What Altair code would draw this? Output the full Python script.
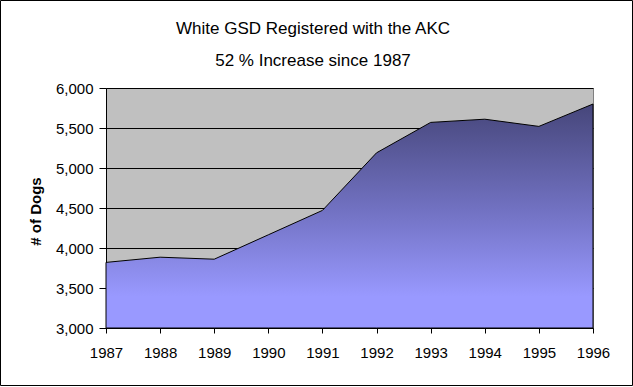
import altair as alt
import pandas as pd

years = [1987, 1988, 1989, 1990, 1991, 1992, 1993, 1994, 1995, 1996]
dogs = [3820, 3885, 3860, 4165, 4470, 5190, 5570, 5610, 5520, 5800]
title_lines = ["White GSD Registered with the AKC", "52 % Increase since 1987"]
y_ticks = [3000, 3500, 4000, 4500, 5000, 5500, 6000]

df = pd.DataFrame({"year": years, "dogs": dogs})
one = pd.DataFrame({"a": [0]})

FONT = "Liberation Sans"

grad = alt.Gradient(
    gradient="linear",
    x1=0, x2=0, y1=0, y2=1,
    stops=[
        alt.GradientStop(color="#46467a", offset=0),
        alt.GradientStop(color="#7474c6", offset=0.5),
        alt.GradientStop(color="#9999ff", offset=0.86),
        alt.GradientStop(color="#9999ff", offset=1),
    ],
)

area = alt.Chart(df).mark_area(
    color=grad, stroke="black", strokeWidth=1
).encode(
    x=alt.X("year:Q",
            scale=alt.Scale(domain=[1987, 1996], nice=False, zero=False),
            axis=alt.Axis(values=years, format="d", title=None, grid=False,
                          tickSize=5, labelPadding=12, labelFontSize=15,
                          labelFont=FONT, labelColor="black",
                          domainColor="black", tickColor="black",
                          labelFlush=False, labelOverlap=False)),
    y=alt.Y("dogs:Q",
            scale=alt.Scale(domain=[3000, 6000], nice=False, zero=False),
            axis=alt.Axis(values=y_ticks, format=",.0f", title="# of Dogs",
                          grid=True, gridColor="black", gridOpacity=1,
                          tickSize=7, labelPadding=6, labelFontSize=15,
                          labelFont=FONT, labelColor="black",
                          domainColor="black", tickColor="black",
                          labelOverlap=False,
                          titleFont=FONT, titleFontSize=15, titleFontWeight="bold",
                          titleColor="black", titleX=-71, titleY=123,
                          titleAngle=270, titleAlign="center",
                          titleBaseline="middle")),
    y2=alt.datum(3000),
)

border = alt.Chart(one).mark_rect(
    fill=None, stroke="black", strokeWidth=1
).encode(
    x=alt.value(-105.5), x2=alt.value(526.5),
    y=alt.value(-87.5), y2=alt.value(297.5),
)

t1 = alt.Chart(one).mark_text(
    font=FONT, fontSize=17, color="black", align="center", baseline="alphabetic"
).encode(x=alt.value(207), y=alt.value(-54), text=alt.value(title_lines[0]))

t2 = alt.Chart(one).mark_text(
    font=FONT, fontSize=17, color="black", align="center", baseline="alphabetic"
).encode(x=alt.value(207), y=alt.value(-22), text=alt.value(title_lines[1]))

chart = alt.layer(area, border, t1, t2).properties(
    width=487,
    height=240,
    autosize=alt.AutoSizeParams(type="none"),
    padding={"left": 106, "top": 88, "right": 40, "bottom": 59},
    background="white",
).configure_view(
    fill="#c0c0c0", stroke="#808080", strokeWidth=1
)

chart.save("out.html", embed_options={"renderer": "svg", "actions": False})
